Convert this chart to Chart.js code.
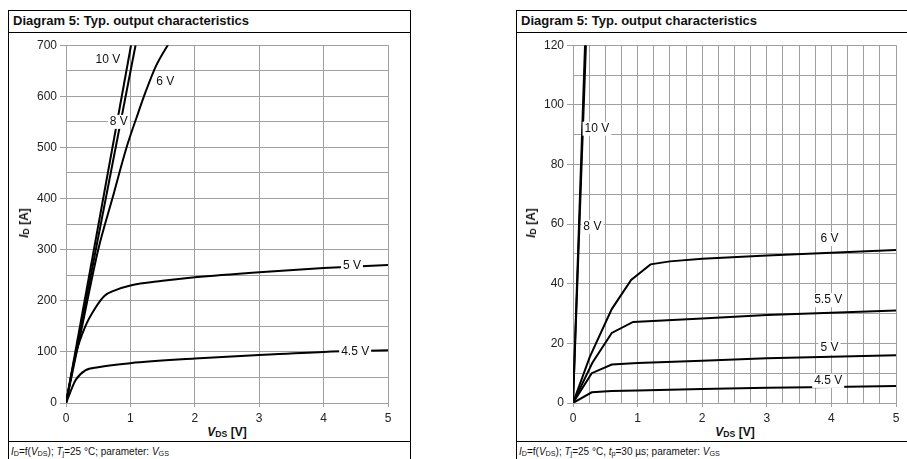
<!DOCTYPE html>
<html>
<head>
<meta charset="utf-8">
<script src="https://cdn.jsdelivr.net/npm/chart.js@4"></script>
<style>
  body { margin: 0; background: #fff; width: 907px; height: 459px; overflow: hidden; position: relative;
         font-family: "Liberation Sans", Arial, sans-serif; color: #111; }
  .panel { position: absolute; top: 10px; height: 470px; border: 1px solid #000; box-sizing: border-box; }
  .head { position: absolute; left: 0; right: 0; top: 0; height: 21px; border-bottom: 1px solid #000;
          font-weight: bold; font-size: 13px; line-height: 20px; padding-left: 4px; }
  .foot { position: absolute; left: 0; right: 0; top: 430px; border-top: 1px solid #000;
          font-size: 10px; padding: 4px 0 0 2px; }
  .foot sub, .axt sub { font-size: 0.72em; vertical-align: baseline; position: relative; top: 0.1em; }
  canvas { position: absolute; }
  .axt { position: absolute; font-weight: bold; font-size: 12px; white-space: nowrap; }
  .rot { transform: translate(-50%, -50%) rotate(-90deg); }
  .hor { transform: translate(-50%, -50%); }
</style>
</head>
<body>
<div class="panel" style="left:8px; width:403px;">
  <div class="head">Diagram 5: Typ. output characteristics</div>
  <div class="foot"><i>I</i><sub>D</sub>=f(<i>V</i><sub>DS</sub>); <i>T</i><sub>j</sub>=25 °C; parameter: <i>V</i><sub>GS</sub></div>
</div>
<div class="panel" style="left:516px; width:400px;">
  <div class="head">Diagram 5: Typ. output characteristics</div>
  <div class="foot"><i>I</i><sub>D</sub>=f(<i>V</i><sub>DS</sub>); <i>T</i><sub>j</sub>=25 °C, <i>t</i><sub>p</sub>=30 µs; parameter: <i>V</i><sub>GS</sub></div>
</div>

<canvas id="leftChart" width="382" height="390" style="left:20px; top:35px;"></canvas>
<canvas id="rightChart" width="380" height="390" style="left:527px; top:35px;"></canvas>

<div class="axt rot" style="left:24px; top:223px;"><i>I</i><sub>D</sub> [A]</div>
<div class="axt hor" style="left:227px; top:432px;"><i>V</i><sub>DS</sub> [V]</div>
<div class="axt rot" style="left:531px; top:223px;"><i>I</i><sub>D</sub> [A]</div>
<div class="axt hor" style="left:735px; top:432px;"><i>V</i><sub>DS</sub> [V]</div>

<script>
// left diagram: VDS [V] vs ID [A]
var left10V = [[0, 0], [1.01, 700]];
var left8V = [[0, 0], [1.08, 700]];
var left6V = [[0, 0], [0.25, 150], [0.5, 300], [0.72, 400], [0.94, 500], [1.1, 560], [1.24, 610], [1.4, 660], [1.58, 700], [1.62, 708]];
var left5V = [[0, 0], [0.15, 95], [0.3, 150], [0.45, 185], [0.6, 210], [0.75, 220], [1, 230], [1.5, 239], [2, 246], [3, 256], [4, 264], [5, 270]];
var left45V = [[0, 0], [0.15, 45], [0.3, 64], [0.5, 70], [1, 78], [2, 87], [3, 94], [4, 100], [5, 103]];
var leftXTicks = [0, 1, 2, 3, 4, 5];
var leftYTicks = [0, 100, 200, 300, 400, 500, 600, 700];

// right diagram (pulsed, tp = 30 us)
var right10V = [[0, 0], [0.186, 120]];
var right8V = [[0, 0], [0.2, 120]];
var right6V = [[0, 0], [0.26, 15.5], [0.6, 31.5], [0.9, 41.3], [1.2, 46.5], [1.5, 47.5], [2, 48.4], [3, 49.5], [4, 50.4], [5, 51.3]];
var right55V = [[0, 0], [0.3, 13.5], [0.6, 23.5], [0.93, 27.2], [2, 28.3], [3, 29.5], [4, 30.3], [5, 31]];
var right5V = [[0, 0], [0.29, 10], [0.6, 12.9], [1, 13.4], [2, 14.2], [3, 15], [4, 15.5], [5, 16]];
var right45V = [[0, 0], [0.29, 3.6], [0.6, 4], [1, 4.2], [2, 4.7], [3, 5.1], [4, 5.4], [5, 5.7]];
var rightXTicks = [0, 1, 2, 3, 4, 5];
var rightYTicks = [0, 20, 40, 60, 80, 100, 120];

var leftLabels = [
  { text: '10 V', x: 0.65, y: 671 },
  { text: '6 V', x: 1.54, y: 628 },
  { text: '8 V', x: 0.82, y: 550 },
  { text: '5 V', x: 4.44, y: 268 },
  { text: '4.5 V', x: 4.49, y: 101 }
];
var rightLabels = [
  { text: '10 V', x: 0.37, y: 92 },
  { text: '8 V', x: 0.3, y: 59 },
  { text: '6 V', x: 3.97, y: 55 },
  { text: '5.5 V', x: 3.95, y: 34.5 },
  { text: '5 V', x: 3.97, y: 18.5 },
  { text: '4.5 V', x: 3.95, y: 7.4 }
];

Chart.defaults.font.family = '"Liberation Sans", Arial, sans-serif';
Chart.defaults.font.size = 12;
Chart.defaults.color = '#222';

var curveLabelPlugin = {
  id: 'curveLabels',
  afterDatasetsDraw: function (chart, args, opts) {
    var ctx = chart.ctx;
    ctx.save();
    ctx.font = '12px "Liberation Sans", Arial, sans-serif';
    ctx.textAlign = 'center';
    ctx.textBaseline = 'middle';
    opts.items.forEach(function (l) {
      var px = chart.scales.x.getPixelForValue(l.x);
      var py = chart.scales.y.getPixelForValue(l.y);
      var w = ctx.measureText(l.text).width + 4;
      ctx.fillStyle = '#fff';
      ctx.fillRect(px - w / 2, py - 7, w, 14);
      ctx.fillStyle = '#111';
      ctx.fillText(l.text, px, py);
    });
    ctx.restore();
  }
};

function toPoints(arr) {
  return arr.map(function (p) { return { x: p[0], y: p[1] }; });
}

function makeChart(id, series, xMax, xStep, xTicks, yMax, yStep, yTicks, labels, smooth, padRight) {
  var ctx = document.getElementById(id).getContext('2d');
  return new Chart(ctx, {
    type: 'line',
    data: {
      datasets: series.map(function (s) {
        return {
          data: toPoints(s),
          borderColor: '#000',
          borderWidth: 2,
          pointRadius: 0,
          fill: false,
          tension: 0,
          cubicInterpolationMode: smooth ? 'monotone' : 'default'
        };
      })
    },
    options: {
      responsive: false,
      animation: false,
      events: [],
      layout: { padding: { top: 8, right: padRight, left: 0, bottom: 0 } },
      scales: {
        x: {
          type: 'linear', min: 0, max: xMax,
          afterFit: function (s) { s.height = 22; },
          grid: {
            color: '#a0a0a0', tickLength: 4,
            tickColor: function (c) { return xTicks.indexOf(c.tick.value) >= 0 ? '#a0a0a0' : 'rgba(0,0,0,0)'; }
          },
          border: { color: '#a0a0a0' },
          ticks: {
            stepSize: xStep, autoSkip: false, maxRotation: 0, padding: 4, color: '#222',
            callback: function (v) { return xTicks.indexOf(v) >= 0 ? String(v) : ''; }
          }
        },
        y: {
          type: 'linear', min: 0, max: yMax,
          afterFit: function (s) { s.width = 46; },
          grid: {
            color: '#a0a0a0', tickLength: 6,
            tickColor: function (c) { return yTicks.indexOf(c.tick.value) >= 0 ? '#a0a0a0' : 'rgba(0,0,0,0)'; }
          },
          border: { color: '#a0a0a0' },
          ticks: {
            stepSize: yStep, autoSkip: false, padding: 3, color: '#222',
            callback: function (v) { return yTicks.indexOf(v) >= 0 ? String(v) : ''; }
          }
        }
      },
      plugins: {
        legend: { display: false },
        tooltip: { enabled: false },
        curveLabels: { items: labels }
      }
    },
    plugins: [curveLabelPlugin]
  });
}

makeChart('leftChart', [left10V, left8V, left6V, left5V, left45V], 5, 1, leftXTicks, 700, 50, leftYTicks, leftLabels, true, 14);
makeChart('rightChart', [right10V, right8V, right6V, right55V, right5V, right45V], 5, 0.25, rightXTicks, 120, 10, rightYTicks, rightLabels, false, 11);
</script>
</body>
</html>
